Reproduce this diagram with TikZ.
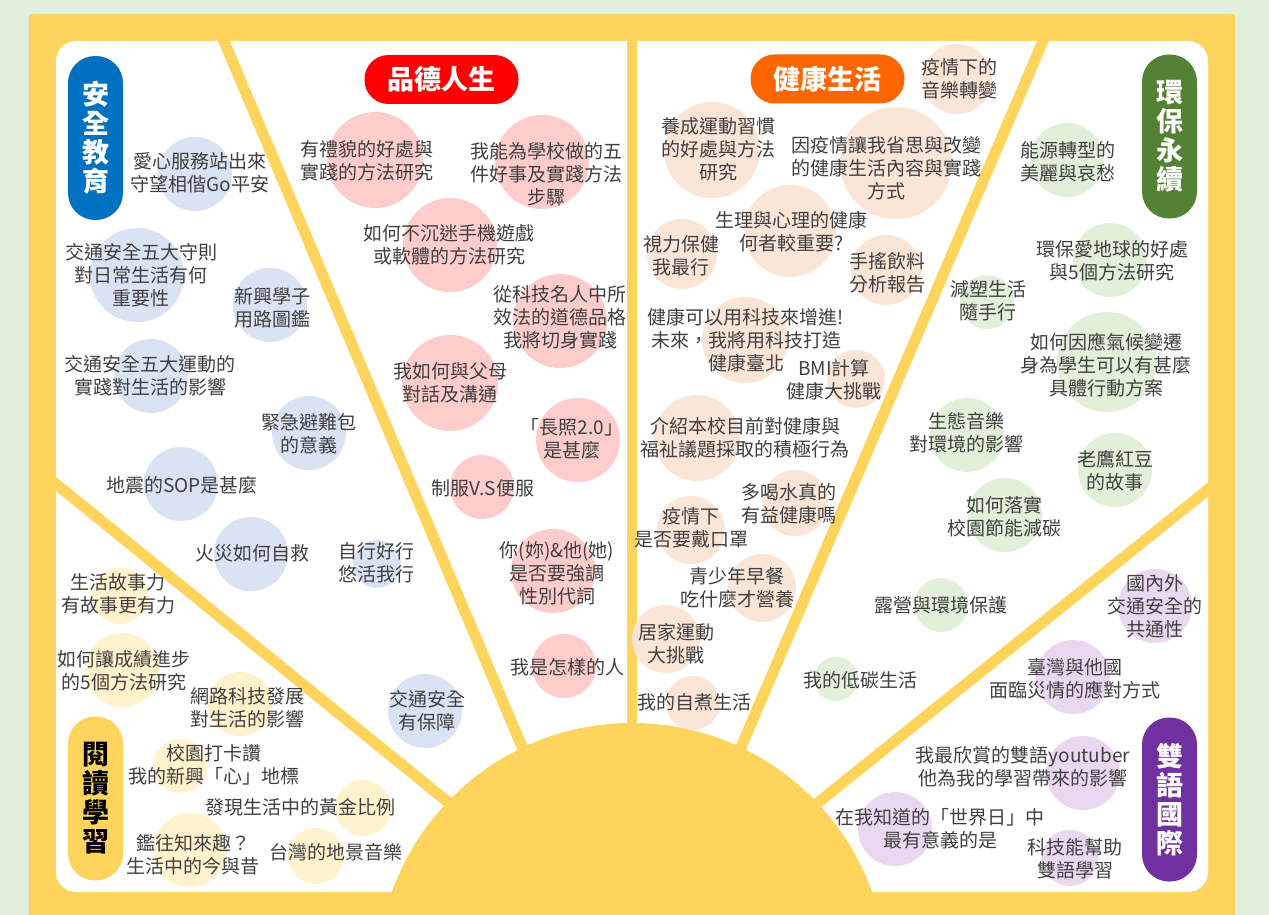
\documentclass[tikz,border=0pt]{standalone}
\usepackage{fontspec}
\setmainfont{Noto Sans CJK TC}
\definecolor{bg}{HTML}{E2EFDA}
\definecolor{sun}{HTML}{FFD45C}
\definecolor{txt}{HTML}{404040}
\definecolor{cblue}{HTML}{DAE3F3}
\definecolor{cpink}{HTML}{FFCCCC}
\definecolor{cpeach}{HTML}{FBE5D6}
\definecolor{cgreen}{HTML}{E2F0D9}
\definecolor{cyellow}{HTML}{FFF2CC}
\definecolor{cpurple}{HTML}{EAD7F0}
\definecolor{tblue}{HTML}{0070C0}
\definecolor{tred}{HTML}{FF0000}
\definecolor{torange}{HTML}{FF6600}
\definecolor{tgreen}{HTML}{548235}
\definecolor{tyellow}{HTML}{FFD45C}
\definecolor{tpurple}{HTML}{7030A0}
\newcommand{\topic}[8]{%
  \node[bub=#4, fill=#5] (#1c) at (#2,#3) {};
  \node[lbl] (#1) at (#6,#7) {#8};}
\begin{document}
\begin{tikzpicture}[x=1pt,y=-1pt,
  bub/.style={circle, inner sep=0pt, minimum size=#1},
  lbl/.style={font=\fontsize{19}{23}\selectfont, text=txt, align=center, inner sep=0pt},
  ray/.style={draw=sun, line width=11pt},
  hpill/.style={fill=#1, rounded corners=24pt, minimum width=154pt, minimum height=49pt,
    text=white, font=\fontsize{27}{29}\selectfont\bfseries, inner sep=0pt},
  vpill/.style={fill=#1, rounded corners=27pt, minimum width=55pt, minimum height=164pt,
    text=white, font=\fontsize{27}{29}\selectfont\bfseries, align=center, inner sep=0pt}]
\useasboundingbox (0,0) rectangle (1269,915);
\clip (0,0) rectangle (1269,915);
% frame
\fill[bg] (0,0) rectangle (1269,915);
\fill[sun] (29,14) rectangle (1235,915);
\fill[white, rounded corners=20pt] (56,41) rectangle (1208,892);
% rays
\coordinate (sunc) at (632,978);
\draw[ray] (40,471) -- (470,820);
\draw[ray] (215,20) -- (536,780);
\draw[ray, line width=10pt] (632,20) -- (632,800);
\draw[ray] (1052,20) -- (727,780);
\draw[ray] (1225,476) -- (800,817);
\fill[sun] (sunc) circle[radius=255pt];
% titles
\node[vpill=tblue] (tA) at (95.5,138) {安\\全\\教\\育};
\node[hpill=tred] (tB) at (441.5,79.5) {品德人生};
\node[hpill=torange] (tC) at (827.5,79) {健康生活};
\node[vpill=tgreen] (tD) at (1169.5,136.5) {環\\保\\永\\續};
\node[vpill=tyellow, text=black] (tE) at (95.5,798.5) {閱\\讀\\學\\習};
\node[vpill=tpurple] (tF) at (1169.5,799.5) {雙\\語\\國\\際};
% safety (blue)
\topic{b1}{195}{174}{74pt}{cblue}{200}{173}{愛心服務站出來\\守望相偕Go平安}
\topic{b2}{137}{275}{94pt}{cblue}{141}{275}{交通安全五大守則\\對日常生活有何\\重要性}
\topic{b3}{270}{305}{74pt}{cblue}{272}{308}{新興學子\\用路圖鑑}
\topic{b4}{151}{376}{74pt}{cblue}{150}{376}{交通安全五大運動的\\實踐對生活的影響}
\topic{b5}{309}{433}{74pt}{cblue}{309}{434}{緊急避難包\\的意義}
\topic{b6}{181}{484}{74pt}{cblue}{182}{485}{地震的SOP是甚麼}
\topic{b7}{251}{554}{74pt}{cblue}{252}{553}{火災如何自救}
\topic{b8}{377}{564}{48pt}{cblue}{376}{563}{自行好行\\悠活我行}
\topic{b9}{425}{711}{74pt}{cblue}{427}{711}{交通安全\\有保障}
% character (pink)
\topic{p1}{375}{160}{96pt}{cpink}{367}{161}{有禮貌的好處與\\實踐的方法研究}
\topic{p2}{542}{162}{94pt}{cpink}{546}{174}{我能為學校做的五\\件好事及實踐方法\\步驟}
\topic{p3}{450}{245}{94pt}{cpink}{449}{245}{如何不沉迷手機遊戲\\或軟體的方法研究}
\topic{p4}{560}{321}{94pt}{cpink}{560}{317}{從科技名人中所\\效法的道德品格\\我將切身實踐}
\topic{p5}{450}{383}{96pt}{cpink}{450}{383}{我如何與父母\\對話及溝通}
\topic{p6}{578}{440}{84pt}{cpink}{572}{439}{「長照2.0」\\是甚麼}
\topic{p7}{482}{487}{64pt}{cpink}{483}{488}{制服V.S便服}
\topic{p8}{553}{571}{84pt}{cpink}{557}{573}{你(妳)\&他(她)\\是否要強調\\性別代詞}
\topic{p9}{564}{666}{64pt}{cpink}{567}{667}{我是怎樣的人}
% health (peach)
\topic{h1}{957}{79}{70pt}{cpeach}{959}{79}{疫情下的\\音樂轉變}
\topic{h2}{712}{150}{96pt}{cpeach}{718}{149}{養成運動習慣\\的好處與方法\\研究}
\topic{h3}{896}{163}{112pt}{cpeach}{886}{168}{因疫情讓我省思與改變\\的健康生活內容與實踐\\方式}
\topic{h4}{790}{231}{92pt}{cpeach}{791}{232}{生理與心理的健康\\何者較重要?}
\topic{h5}{682}{254}{70pt}{cpeach}{681}{256}{視力保健\\我最行}
\topic{h6}{886}{270}{70pt}{cpeach}{887}{273}{手搖飲料\\分析報告}
\topic{h7}{745}{340}{86pt}{cpeach}{746}{340}{健康可以用科技來增進!\\未來，我將用科技打造\\健康臺北}
\topic{h8}{856}{379}{58pt}{cpeach}{834}{380}{BMI計算\\健康大挑戰}
\topic{h9}{697}{438}{86pt}{cpeach}{745}{438}{介紹本校目前對健康與\\福祉議題採取的積極行為}
\topic{h10}{795}{503}{66pt}{cpeach}{789}{504}{多喝水真的\\有益健康嗎}
\topic{h11}{691}{530}{68pt}{cpeach}{691}{528}{疫情下\\是否要戴口罩}
\topic{h12}{762}{588}{68pt}{cpeach}{737}{588}{青少年早餐\\吃什麼才營養}
\topic{h13}{666}{639}{68pt}{cpeach}{676}{644}{居家運動\\大挑戰}
\topic{h14}{693}{703}{54pt}{cpeach}{694}{702}{我的自煮生活}
% environment (green)
\topic{g1}{1067}{160}{74pt}{cgreen}{1068}{162}{能源轉型的\\美麗與哀愁}
\topic{g2}{1110}{260}{74pt}{cgreen}{1112}{261}{環保愛地球的好處\\與5個方法研究}
\topic{g3}{987}{302}{54pt}{cgreen}{988}{301}{減塑生活\\隨手行}
\topic{g4}{1107}{362}{100pt}{cgreen}{1106}{365}{如何因應氣候變遷\\身為學生可以有甚麼\\具體行動方案}
\topic{g5}{967}{435}{74pt}{cgreen}{966}{433}{生態音樂\\對環境的影響}
\topic{g6}{1115}{470}{74pt}{cgreen}{1115}{471}{老鷹紅豆\\的故事}
\topic{g7}{1005}{515}{74pt}{cgreen}{1004}{517}{如何落實\\校園節能減碳}
\topic{g8}{941}{605}{54pt}{cgreen}{941}{605}{露營與環境保護}
\topic{g9}{836}{679}{44pt}{cgreen}{860}{680}{我的低碳生活}
% bilingual (purple)
\topic{v1}{1155}{606}{74pt}{cpurple}{1155}{606}{國內外\\交通安全的\\共通性}
\topic{v2}{1073}{677}{74pt}{cpurple}{1075}{679}{臺灣與他國\\面臨災情的應對方式}
\topic{v3}{1083}{773}{74pt}{cpurple}{1023}{767}{我最欣賞的雙語youtuber\\他為我的學習帶來的影響}
\topic{v4}{895}{829}{74pt}{cpurple}{940}{829}{在我知道的「世界日」中\\最有意義的是}
\topic{v5}{1070}{858}{56pt}{cpurple}{1075}{859}{科技能幫助\\雙語學習}
% reading (yellow)
\topic{y1}{120}{596}{56pt}{cyellow}{118}{594}{生活故事力\\有故事更有力}
\topic{y2}{122}{670}{74pt}{cyellow}{124}{671}{如何讓成績進步\\的5個方法研究}
\topic{y3}{240}{704}{64pt}{cyellow}{247}{708}{網路科技發展\\對生活的影響}
\topic{y4}{180}{766}{54pt}{cyellow}{214}{765}{校園打卡讚\\我的新興「心」地標}
\topic{y5}{363}{808}{56pt}{cyellow}{300}{807}{發現生活中的黃金比例}
\topic{y6}{190}{850}{74pt}{cyellow}{193}{855}{鑑往知來趣？\\生活中的今與昔}
\topic{y7}{316}{856}{56pt}{cyellow}{336}{852}{台灣的地景音樂}
\end{tikzpicture}
\end{document}
